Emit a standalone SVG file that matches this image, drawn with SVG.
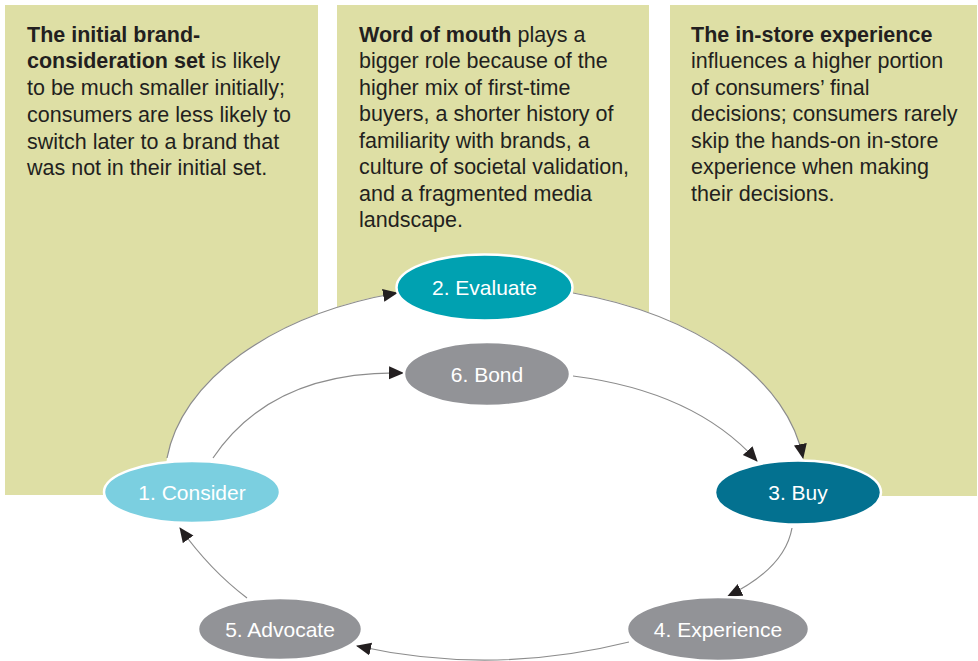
<svg xmlns="http://www.w3.org/2000/svg" width="978" height="661" viewBox="0 0 978 661">
<style>
.panel{fill:#dedfa5}
.pt{font-family:"Liberation Sans",Arial,sans-serif;font-size:21.5px;fill:#231f20}
.b{font-weight:bold}
.conn{fill:none;stroke:#8c8c8c;stroke-width:1.2}
.node{stroke:#ffffff;stroke-width:2.5}
.nl{font-family:"Liberation Sans",Arial,sans-serif;font-size:21px;fill:#ffffff;text-anchor:middle}
</style>
<defs>
<marker id="arr" markerUnits="userSpaceOnUse" markerWidth="16" markerHeight="14" refX="14" refY="6.5" orient="auto">
<path d="M0,0 L15,6.5 L0,13 z" fill="#231f20"/>
</marker>
</defs>
<rect width="978" height="661" fill="#ffffff"/>
<g id="panel-consider">
<rect class="panel" x="5" y="5" width="313" height="490"/>
<text class="pt" x="27" y="41.7"><tspan class="b">The initial brand-</tspan></text>
<text class="pt" x="27" y="68.4"><tspan class="b">consideration set</tspan> is likely</text>
<text class="pt" x="27" y="95.1">to be much smaller initially;</text>
<text class="pt" x="27" y="121.8">consumers are less likely to</text>
<text class="pt" x="27" y="148.5">switch later to a brand that</text>
<text class="pt" x="27" y="175.2">was not in their initial set.</text>
</g>
<g id="panel-evaluate">
<rect class="panel" x="337" y="5" width="312" height="490"/>
<text class="pt" x="359" y="41.7"><tspan class="b">Word of mouth</tspan> plays a</text>
<text class="pt" x="359" y="68.2">bigger role because of the</text>
<text class="pt" x="359" y="94.7">higher mix of first-time</text>
<text class="pt" x="359" y="121.2">buyers, a shorter history of</text>
<text class="pt" x="359" y="147.7">familiarity with brands, a</text>
<text class="pt" x="359" y="174.2">culture of societal validation,</text>
<text class="pt" x="359" y="200.7">and a fragmented media</text>
<text class="pt" x="359" y="227.2">landscape.</text>
</g>
<g id="panel-buy">
<rect class="panel" x="670" y="5" width="307" height="491"/>
<text class="pt" x="691" y="41.7"><tspan class="b">The in-store experience</tspan></text>
<text class="pt" x="691" y="68.2">influences a higher portion</text>
<text class="pt" x="691" y="94.7">of consumers’ final</text>
<text class="pt" x="691" y="121.2">decisions; consumers rarely</text>
<text class="pt" x="691" y="147.7">skip the hands-on in-store</text>
<text class="pt" x="691" y="174.2">experience when making</text>
<text class="pt" x="691" y="200.7">their decisions.</text>
</g>
<ellipse cx="485" cy="480" rx="320" ry="195" fill="#ffffff"/>
<g id="connectors">
<path class="conn" d="M167,458 A320,195 0 0,1 397,293" marker-end="url(#arr)"/>
<path class="conn" d="M573,293 A320,195 0 0,1 803,458" marker-end="url(#arr)"/>
<path class="conn" d="M213,458 Q272,370.5 403,373" marker-end="url(#arr)"/>
<path class="conn" d="M573,376 Q695,391.5 757,461" marker-end="url(#arr)"/>
<path class="conn" d="M792,528 Q785,568 728,596" marker-end="url(#arr)"/>
<path class="conn" d="M629,642 Q493,676 357,646" marker-end="url(#arr)"/>
<path class="conn" d="M247,598 Q210,570 180,528" marker-end="url(#arr)"/>
</g>
<g id="node-consider">
<ellipse class="node" cx="192" cy="492" rx="88" ry="31" fill="#7bcfe0"/>
<text class="nl" x="192" y="499.5">1. Consider</text>
</g>
<g id="node-evaluate">
<ellipse class="node" cx="484.5" cy="287.5" rx="88" ry="33" fill="#00a1b1"/>
<text class="nl" x="484.5" y="295">2. Evaluate</text>
</g>
<g id="node-buy">
<ellipse class="node" cx="798" cy="492.5" rx="83" ry="32" fill="#037190"/>
<text class="nl" x="798" y="500">3. Buy</text>
</g>
<g id="node-experience">
<ellipse class="node" cx="718" cy="629" rx="91" ry="32" fill="#929397"/>
<text class="nl" x="718" y="636.5">4. Experience</text>
</g>
<g id="node-advocate">
<ellipse class="node" cx="280" cy="629" rx="82" ry="31" fill="#929397"/>
<text class="nl" x="280" y="636.5">5. Advocate</text>
</g>
<g id="node-bond">
<ellipse class="node" cx="487" cy="374" rx="83" ry="32" fill="#929397"/>
<text class="nl" x="487" y="381.5">6. Bond</text>
</g>
</svg>
